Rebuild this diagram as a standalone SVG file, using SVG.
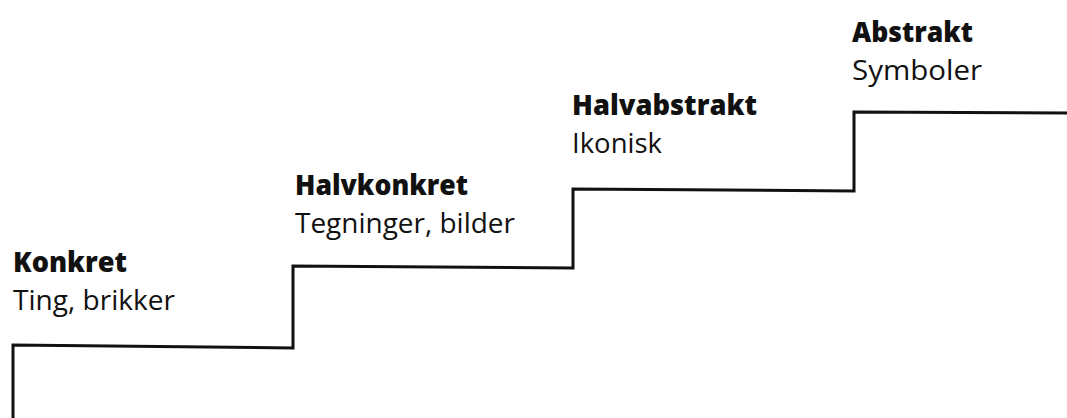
<svg xmlns="http://www.w3.org/2000/svg" width="1067" height="418" viewBox="0 0 1067 418">
<style>
.t{font-family:"Open Sans","Noto Sans","Liberation Sans",sans-serif;font-size:28px;fill:#111}
.b{font-weight:800}
.stair{fill:none;stroke:#111;stroke-width:3;stroke-linejoin:miter;stroke-linecap:butt}
</style>
<rect width="1067" height="418" fill="#fff"/>
<g id="connectors">
<path class="stair" d="M13 418 L13 345 L293 348 L293 266 L573 268 L573 189 L854 191 L854 112 L1067 113"/>
</g>
<g id="konkret">
<text class="t b" x="13" y="272" textLength="114" lengthAdjust="spacingAndGlyphs">Konkret</text>
<text class="t" x="13" y="310" textLength="162" lengthAdjust="spacingAndGlyphs">Ting, brikker</text>
</g>
<g id="halvkonkret">
<text class="t b" x="295" y="195" textLength="173" lengthAdjust="spacingAndGlyphs">Halvkonkret</text>
<text class="t" x="295" y="233" textLength="220" lengthAdjust="spacingAndGlyphs">Tegninger, bilder</text>
</g>
<g id="halvabstrakt">
<text class="t b" x="572" y="115" textLength="185" lengthAdjust="spacingAndGlyphs">Halvabstrakt</text>
<text class="t" x="572" y="153" textLength="90" lengthAdjust="spacingAndGlyphs">Ikonisk</text>
</g>
<g id="abstrakt">
<text class="t b" x="852" y="42" textLength="121" lengthAdjust="spacingAndGlyphs">Abstrakt</text>
<text class="t" x="852" y="80" textLength="130" lengthAdjust="spacingAndGlyphs">Symboler</text>
</g>
</svg>
